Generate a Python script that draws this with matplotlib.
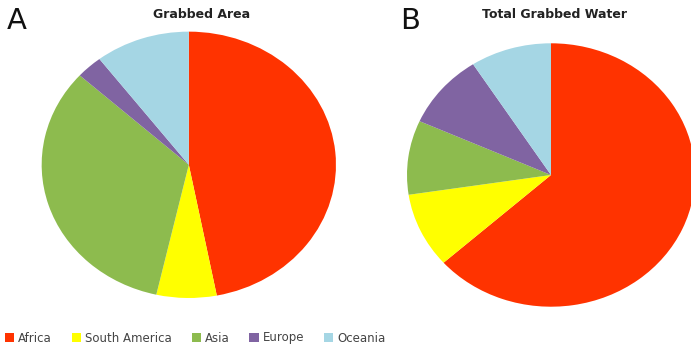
import matplotlib
matplotlib.use('Agg')
import matplotlib.pyplot as plt
from matplotlib.patches import Patch

regions = ['Africa', 'South America', 'Asia', 'Europe', 'Oceania']
colors = ['#FF3300', '#FFFF00', '#8DBB4E', '#8064A2', '#A5D6E4']

# shares in percent
area_share = [47.0, 6.6, 33.2, 2.9, 10.4]
water_share = [63.4, 9.2, 9.1, 9.2, 9.1]

fig = plt.figure(figsize=(6.91, 3.5), dpi=100)

# the pies in the original are slightly stretched sideways, so no equal aspect
ax_a = fig.add_axes([0.0603, 0.1486, 0.4259, 0.761])
ax_b = fig.add_axes([0.589, 0.1237, 0.4168, 0.7526])

for ax, vals in [(ax_a, area_share), (ax_b, water_share)]:
    ax.pie(vals, colors=colors, startangle=90, counterclock=False,
           wedgeprops=dict(linewidth=0))
    ax.set_aspect('auto')
    ax.set_xlim(-1, 1)
    ax.set_ylim(-1, 1)
    ax.axis('off')

fig.text(202 / 691, 1 - 15 / 350, 'Grabbed Area', ha='center', va='center',
         fontsize=9, fontweight='bold', color='#222222')
fig.text(555 / 691, 1 - 15 / 350, 'Total Grabbed Water', ha='center', va='center',
         fontsize=9, fontweight='bold', color='#222222')
fig.text(7 / 691, 1 - 21 / 350, 'A', ha='left', va='center', fontsize=21, color='#111111')
fig.text(400 / 691, 1 - 21 / 350, 'B', ha='left', va='center', fontsize=21, color='#111111')

handles = [Patch(facecolor=c, edgecolor='none') for c in colors]
fig.legend(handles, regions, loc='center left', bbox_to_anchor=(5 / 691, 1 - 338 / 350),
           ncol=5, frameon=False, fontsize=8.5, handlelength=0.8, handleheight=0.8,
           handletextpad=0.3, columnspacing=1.7, borderaxespad=0, borderpad=0,
           labelcolor='#444444')

plt.savefig('out.png', dpi=100)
plt.close()
